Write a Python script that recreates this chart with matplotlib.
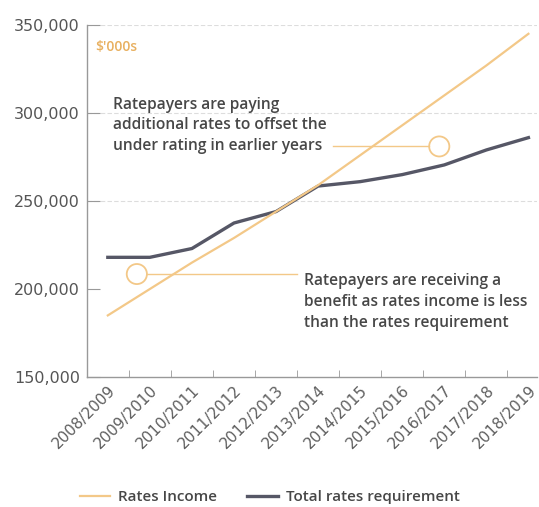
import matplotlib.pyplot as plt
from matplotlib.patches import Ellipse
from matplotlib.ticker import FuncFormatter, FixedLocator

years = ['2008/2009', '2009/2010', '2010/2011', '2011/2012', '2012/2013', '2013/2014',
         '2014/2015', '2015/2016', '2016/2017', '2017/2018', '2018/2019']
rates_income = [185000, 200000, 215000, 229000, 244000, 259000,
                276000, 293000, 310000, 327000, 345000]
rates_requirement = [218000, 218000, 223000, 237500, 244000, 258500,
                     261000, 265000, 270500, 279000, 286000]

ORANGE = '#f3c888'
GREY = '#565766'
TEXT = '#474747'
NOTE_FONT = dict(family=['Open Sans', 'DejaVu Sans'], weight='semibold')

plt.rcParams['font.family'] = ['DejaVu Sans']

fig = plt.figure(figsize=(5.39, 5.07), dpi=100)
ax = fig.add_axes([0.161, 0.2564, 0.835, 0.6943])

x = list(range(len(years)))
ax.plot(x, rates_income, color=ORANGE, lw=1.6, label='Rates Income', zorder=3)
ax.plot(x, rates_requirement, color=GREY, lw=2.4, label='Total rates requirement', zorder=2)

ax.set_xlim(-0.5, 10.2)
ax.set_ylim(150000, 350000)

for level in [250000, 300000, 350000]:
    ax.axhline(level, color='#dddddd', lw=0.8, ls=(0, (4, 2)), zorder=1)

ax.set_yticks([150000, 200000, 250000, 300000, 350000])
ax.yaxis.set_major_formatter(FuncFormatter(lambda v, p: f'{v:,.0f}'))
ax.tick_params(axis='y', direction='in', length=9, color='#999999', labelsize=11.5,
               labelcolor='#555555', pad=5)

ax.set_xticks(x)
ax.set_xticklabels(years, rotation=45, ha='right', rotation_mode='anchor',
                   fontsize=11, color='#5f5f5f')
ax.tick_params(axis='x', length=0, pad=4)
ax.xaxis.set_minor_locator(FixedLocator([i + 0.5 for i in range(10)]))
ax.tick_params(axis='x', which='minor', direction='in', length=5, color='#999999')

for side in ['top', 'right']:
    ax.spines[side].set_visible(False)
for side in ['left', 'bottom']:
    ax.spines[side].set_color('#999999')
    ax.spines[side].set_linewidth(1.0)

ax.text(0.018, 0.925, "$'000s", transform=ax.transAxes, color='#e8b060', fontsize=10,
        **NOTE_FONT)

# upper annotation: text, leader line and circle
ax.text(0.12, 293000, 'Ratepayers are paying\nadditional rates to offset the\nunder rating in earlier years',
        color=TEXT, fontsize=11.2, va='center', ha='left', linespacing=1.38, **NOTE_FONT)
ax.plot([5.35, 7.64], [281000, 281000], color=ORANGE, lw=1.0, zorder=2)
ax.add_patch(Ellipse((7.88, 281000), 0.48, 11400, fill=False, ec=ORANGE, lw=1.3, zorder=4))

# lower annotation
ax.plot([0.93, 4.5], [208500, 208500], color=ORANGE, lw=1.0, zorder=2)
ax.add_patch(Ellipse((0.69, 208500), 0.48, 11400, fill=False, ec=ORANGE, lw=1.3, zorder=4))
ax.text(4.67, 192600, 'Ratepayers are receiving a\nbenefit as rates income is less\nthan the rates requirement',
        color=TEXT, fontsize=11.2, va='center', ha='left', linespacing=1.38, **NOTE_FONT)

fig.legend(loc='lower center', bbox_to_anchor=(0.5, -0.022), ncol=2, frameon=False,
           prop=dict(size=11, **NOTE_FONT), handlelength=2.0, handletextpad=0.5,
           columnspacing=2.0, labelcolor=TEXT)

fig.savefig('out.png', dpi=100)
